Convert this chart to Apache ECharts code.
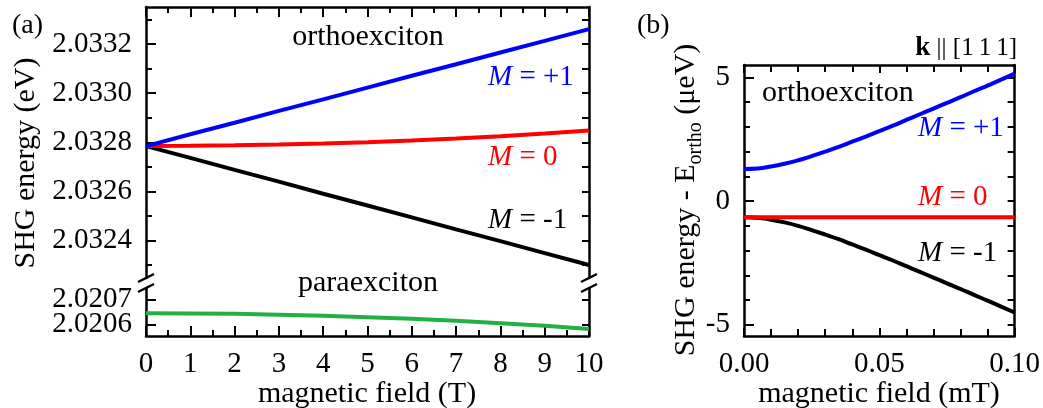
<!DOCTYPE html>
<html>
<head>
<meta charset="utf-8">
<script src="https://cdn.jsdelivr.net/npm/echarts@6/dist/echarts.min.js"></script>
<style>
  html, body { margin: 0; padding: 0; background: #ffffff; }
  #chart { width: 1043px; height: 408px; }
</style>
</head>
<body>
<div id="chart"></div>
<script>
// ---- (a) SHG energies vs magnetic field in tesla ----
const fieldT = [0, 1, 2, 3, 4, 5, 6, 7, 8, 9, 10];
const orthoPlusT  = [2.032785, 2.032833, 2.032880, 2.032928, 2.032975, 2.033023, 2.033071, 2.033118, 2.033166, 2.033213, 2.033261];
const orthoZeroT  = [2.032785, 2.032786, 2.032788, 2.032791, 2.032795, 2.032801, 2.032808, 2.032816, 2.032825, 2.032836, 2.032848];
const orthoMinusT = [2.032785, 2.032737, 2.032688, 2.032640, 2.032591, 2.032543, 2.032495, 2.032446, 2.032398, 2.032349, 2.032301];
const paraT       = [2.020646, 2.020645, 2.020644, 2.020640, 2.020636, 2.020630, 2.020624, 2.020616, 2.020606, 2.020596, 2.020584];

// ---- (b) energy shift relative to E_ortho vs field in millitesla ----
const fieldMT = [0, 0.005, 0.01, 0.015, 0.02, 0.025, 0.03, 0.035, 0.04, 0.045, 0.05,
                 0.055, 0.06, 0.065, 0.07, 0.075, 0.08, 0.085, 0.09, 0.095, 0.1];
const shiftPlus  = [1.30, 1.32, 1.40, 1.51, 1.65, 1.82, 2.00, 2.19, 2.40, 2.61, 2.83,
                    3.05, 3.28, 3.51, 3.74, 3.97, 4.20, 4.44, 4.67, 4.91, 5.15];
const shiftZero  = [-0.65, -0.65, -0.65, -0.65, -0.65, -0.65, -0.65, -0.65, -0.65, -0.65, -0.65,
                    -0.65, -0.65, -0.65, -0.65, -0.65, -0.65, -0.65, -0.65, -0.65, -0.65];
const shiftMinus = [-0.65, -0.67, -0.75, -0.86, -1.00, -1.17, -1.35, -1.54, -1.75, -1.96, -2.18,
                    -2.40, -2.63, -2.86, -3.09, -3.32, -3.55, -3.79, -4.02, -4.26, -4.50];

// ---- tick values ----
const upperMajorTicks = [2.0324, 2.0326, 2.0328, 2.0330, 2.0332];
const upperMinorTicks = [2.0323, 2.0325, 2.0327, 2.0329, 2.0331, 2.0333];
const lowerMajorTicks = [2.0206, 2.0207];
const shiftMajorTicks = [-5, 0, 5];
const shiftMinorTicks = [-4, -3, -2, -1, 1, 2, 3, 4];

const FONT = 'Liberation Serif';
const BLUE = '#0000ff', RED = '#ff0000', BLACK = '#000000', GREEN = '#22b045';

function zip(xs, ys) { return xs.map((x, i) => [x, ys[i]]); }

const lineAxis = { show: true, onZero: false, lineStyle: { color: BLACK, width: 2.5 } };
const noLine = { show: false, onZero: false };

function yAx(grid, pos, range, opts) {
  return Object.assign({
    type: 'value', gridIndex: grid, position: pos,
    min: range[0], max: range[1],
    splitLine: { show: false },
    axisLine: lineAxis,
    axisLabel: { show: false },
    axisTick: { show: false }
  }, opts);
}
function ticks(values, len) {
  return { show: true, inside: true, length: len, customValues: values,
           lineStyle: { color: BLACK, width: 2 } };
}
function labels(values, digits) {
  return { show: true, customValues: values, color: BLACK, fontFamily: FONT, fontSize: 29, margin: 14,
           showMinLabel: true, showMaxLabel: true, hideOverlap: false,
           formatter: v => Number(v).toFixed(digits) };
}

const upperRange = [2.032248, 2.033351];
const lowerRange = [2.020556, 2.020745];
const shiftRange = [-5.45, 5.5];

const xTick = { show: true, inside: true, length: 10, lineStyle: { color: BLACK, width: 2 } };
const xMinor = { show: true, splitNumber: 2, length: 6, lineStyle: { color: BLACK, width: 2 } };
const xMinorB = { show: true, splitNumber: 5, length: 7, lineStyle: { color: BLACK, width: 2 } };
const xLabel = { color: BLACK, fontFamily: FONT, fontSize: 29, margin: 14, showMinLabel: true, showMaxLabel: true };

function lineSeries(x, y, data, color, smooth) {
  return {
    type: 'line', xAxisIndex: x, yAxisIndex: y, data: data,
    showSymbol: false, smooth: !!smooth, silent: true,
    lineStyle: { color: color, width: 4 }, itemStyle: { color: color }
  };
}

function mLabel(x, y, rest, color) {
  return {
    type: 'text', x: x, y: y, z: 100,
    style: {
      text: '{i|M}' + rest,
      rich: { i: { fontStyle: 'italic', fontFamily: FONT, fontSize: 29, fill: color } },
      fontFamily: FONT, fontSize: 29, fill: color,
      align: 'left', verticalAlign: 'middle', textAlign: 'left', textVerticalAlign: 'middle'
    }
  };
}
function plainText(x, y, text, align, size) {
  return {
    type: 'text', x: x, y: y, z: 100,
    style: {
      text: text, fontFamily: FONT, fontSize: size || 30, fill: BLACK,
      align: align, verticalAlign: 'middle', textAlign: align, textVerticalAlign: 'middle'
    }
  };
}
function slash(cx, cy) {
  return { type: 'line', z: 100, shape: { x1: cx - 8, y1: cy + 4, x2: cx + 8, y2: cy - 4 },
           style: { stroke: BLACK, lineWidth: 2.5 } };
}

const chart = echarts.init(document.getElementById('chart'), null, { renderer: 'canvas' });

chart.setOption({
  animation: false,
  backgroundColor: '#ffffff',
  grid: [
    { left: 146, top: 7, width: 443, height: 271 },    // (a) orthoexciton section
    { left: 146, top: 288, width: 443, height: 48 },   // (a) paraexciton section
    { left: 744, top: 65, width: 271, height: 271 }    // (b)
  ],
  xAxis: [
    { type: 'value', gridIndex: 0, position: 'top', min: 0, max: 10, interval: 1,
      splitLine: { show: false }, axisLine: lineAxis, axisLabel: { show: false },
      axisTick: xTick, minorTick: xMinor },
    { type: 'value', gridIndex: 1, position: 'bottom', min: 0, max: 10, interval: 1,
      splitLine: { show: false }, axisLine: lineAxis, axisLabel: xLabel,
      axisTick: xTick, minorTick: xMinor },
    { type: 'value', gridIndex: 2, position: 'bottom', min: 0, max: 0.1, interval: 0.05,
      splitLine: { show: false }, axisLine: lineAxis,
      axisLabel: Object.assign({}, xLabel, { formatter: v => Number(v).toFixed(2) }),
      axisTick: { show: true, inside: true, length: 8, lineStyle: { color: BLACK, width: 2 } },
      minorTick: xMinorB },
    { type: 'value', gridIndex: 2, position: 'top', min: 0, max: 0.1, interval: 0.05,
      splitLine: { show: false }, axisLine: lineAxis, axisLabel: { show: false },
      axisTick: { show: true, inside: true, length: 8, lineStyle: { color: BLACK, width: 2 } },
      minorTick: xMinorB }
  ],
  yAxis: [
    // (a) upper section
    yAx(0, 'left', upperRange, { axisLabel: labels(upperMajorTicks, 4), axisTick: ticks(upperMajorTicks, 10) }),
    yAx(0, 'left', upperRange, { axisLine: noLine, axisTick: ticks(upperMinorTicks, 6) }),
    yAx(0, 'right', upperRange, { axisTick: ticks(upperMajorTicks.concat(upperMinorTicks), 7) }),
    // (a) lower section: the two labels sit close together, so each gets its own axis
    yAx(1, 'left', lowerRange, { axisLabel: labels([lowerMajorTicks[0]], 4), axisTick: ticks(lowerMajorTicks, 10) }),
    yAx(1, 'left', lowerRange, { axisLine: noLine, axisLabel: labels([lowerMajorTicks[1]], 4) }),
    yAx(1, 'right', lowerRange, { axisTick: ticks(lowerMajorTicks, 7) }),
    // (b)
    yAx(2, 'left', shiftRange, { axisLabel: labels(shiftMajorTicks, 0), axisTick: ticks(shiftMajorTicks, 10) }),
    yAx(2, 'left', shiftRange, { axisLine: noLine, axisTick: ticks(shiftMinorTicks, 6) }),
    yAx(2, 'right', shiftRange, { axisTick: ticks(shiftMajorTicks.concat(shiftMinorTicks), 7) })
  ],
  series: [
    lineSeries(0, 0, zip(fieldT, orthoMinusT), BLACK),
    lineSeries(0, 0, zip(fieldT, orthoZeroT), RED),
    lineSeries(0, 0, zip(fieldT, orthoPlusT), BLUE),
    lineSeries(1, 3, zip(fieldT, paraT), GREEN),
    lineSeries(2, 6, zip(fieldMT, shiftMinus), BLACK, true),
    lineSeries(2, 6, zip(fieldMT, shiftZero), RED),
    lineSeries(2, 6, zip(fieldMT, shiftPlus), BLUE, true)
  ],
  graphic: [
    // axis break marks
    slash(146, 278), slash(146, 288), slash(589, 278), slash(589, 288),
    // panel tags
    plainText(12, 26, '(a)', 'left', 28),
    plainText(637, 26, '(b)', 'left', 28),
    {
      type: 'text', x: 1017, y: 48, z: 100,
      style: {
        text: '{k|k} || [1\u20091\u20091]',
        rich: { k: { fontWeight: 'bold', fontFamily: FONT, fontSize: 27, fill: BLACK } },
        fontFamily: FONT, fontSize: 25, fill: BLACK,
        align: 'right', verticalAlign: 'middle', textAlign: 'right', textVerticalAlign: 'middle'
      }
    },
    // annotations (a)
    plainText(368, 37, 'orthoexciton', 'center'),
    mLabel(488, 77, ' = +1', BLUE),
    mLabel(488, 157, ' = 0', RED),
    mLabel(488, 220, ' = -1', BLACK),
    plainText(368, 283, 'paraexciton', 'center'),
    // annotations (b)
    plainText(762, 93, 'orthoexciton', 'left'),
    mLabel(918, 128, ' = +1', BLUE),
    mLabel(918, 197, ' = 0', RED),
    mLabel(918, 253, ' = -1', BLACK),
    // axis titles
    plainText(367, 394, 'magnetic field (T)', 'center'),
    plainText(879, 394, 'magnetic field (mT)', 'center'),
    {
      type: 'text', x: 26, y: 163, rotation: Math.PI / 2, z: 100,
      style: {
        text: 'SHG energy (eV)', fontFamily: FONT, fontSize: 30, fill: BLACK,
        align: 'center', verticalAlign: 'middle', textAlign: 'center', textVerticalAlign: 'middle'
      }
    },
    {
      type: 'text', x: 686, y: 200, rotation: Math.PI / 2, z: 100,
      style: {
        text: '{m|SHG energy - E}{s|ortho}{m| (\u03BCeV)}',
        rich: {
          m: { fontFamily: FONT, fontSize: 30, fill: BLACK, lineHeight: 40 },
          s: { fontFamily: FONT, fontSize: 20, fill: BLACK, lineHeight: 20, verticalAlign: 'bottom' }
        },
        fontFamily: FONT, fontSize: 30, fill: BLACK,
        align: 'center', verticalAlign: 'middle', textAlign: 'center', textVerticalAlign: 'middle'
      }
    }
  ]
});
</script>
</body>
</html>
